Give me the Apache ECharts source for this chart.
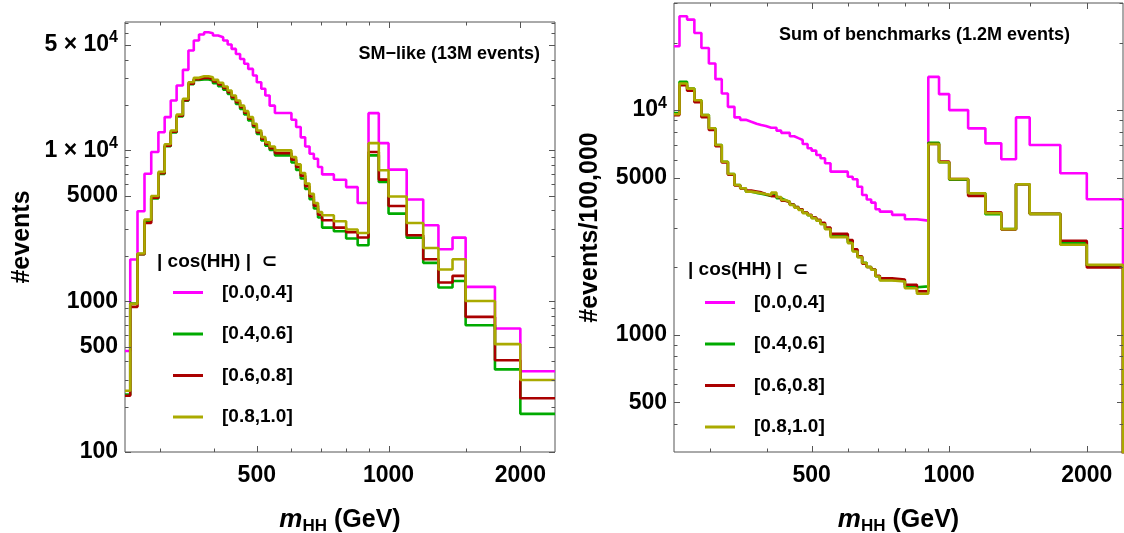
<!DOCTYPE html>
<html><head><meta charset="utf-8">
<script src="https://cdn.jsdelivr.net/npm/echarts@6/dist/echarts.min.js"></script>
<style>html,body{margin:0;padding:0;background:#fff}#c{width:1124px;height:533px}</style>
</head><body><div id="c"></div>
<script>
// ---------------- data ----------------
const binEdgesGeV = [250,257,267,277,287,298,308,318,328,339,349,359,369,379,388,397,408,419,429,438,448,458,468,478,490,500,512,523,535,550,600,615,630,645,660,675,690,705,750,800,850,900,950,1000,1100,1200,1300,1400,1500,1750,2000,2400];

const seriesNames = ['[0.0,0.4]', '[0.4,0.6]', '[0.6,0.8]', '[0.8,1.0]'];

// SM-like (13M events)
const smCos00to04 = [467,1888,3945,7000,9750,13200,16620,21400,26900,34200,45900,53500,58600,60700,59800,57800,56300,53500,50300,47100,43600,40400,37500,34700,31400,28300,25600,23100,19800,17700,15960,14300,12200,10600,9500,8800,7750,6930,6390,5710,4480,17660,11170,7450,4720,3190,2210,2640,1245,659,343];
const smCos04to06 = [240,966,2050,3400,4800,6980,10640,13140,16780,21320,27450,29360,29480,29480,29030,27890,26660,25220,23710,21950,20330,18810,17290,15790,14280,12870,11640,10740,10070,9270,8320,7420,6510,5540,4750,4120,3590,3076,2908,2602,2349,9270,6170,3810,2640,1795,1233,1360,693,353,179];
const smCos06to08 = [236,917,2046,3300,4850,7060,10750,13280,16950,21540,27730,29660,30250,30250,29800,28630,27360,25890,24340,22520,20870,19300,17750,16200,14650,13210,11940,11020,10330,9590,8680,7750,6800,5780,4950,4300,3740,3439,3076,2864,2642,9750,6400,4280,2735,1897,1330,1472,787,406,227];
const smCos08to10 = [255,960,2070,3475,4980,7200,10970,13550,17300,21980,28300,30270,31030,31030,30560,29360,28060,26550,24960,23100,21400,19800,18200,16620,15030,13550,12250,11300,10600,10000,9040,8070,7080,6020,5160,4480,3900,3711,3386,2985,2834,11170,7380,4950,3300,2255,1622,1897,1004,519,300];

// Sum of benchmarks (1.2M events), per 100,000
const bmCos00to04 = [19250,26170,25300,22070,18910,16120,13740,11860,10340,9280,9050,8870,8700,8580,8500,8340,8340,8100,7920,7920,7650,7500,7360,7060,6760,6600,6310,6100,5800,5320,5050,4920,4560,4190,4000,3870,3620,3530,3415,3266,3220,14060,11780,10000,8294,7110,6040,9280,6990,5233,4010];
const bmCos04to06 = [9700,13360,12470,11070,9500,8300,6990,5890,5195,4640,4490,4335,4280,4240,4200,4150,4180,4050,3970,3900,3800,3700,3620,3490,3400,3310,3220,3120,2960,2760,2580,2360,2220,2090,2000,1950,1820,1750,1735,1625,1640,7160,5856,4900,4265,3440,2950,4677,3450,2570,2026];
const bmCos06to08 = [9500,12900,12200,10850,9300,8150,6900,5850,5150,4620,4480,4380,4340,4300,4230,4150,4130,4050,3950,3900,3800,3700,3620,3500,3420,3320,3250,3150,3000,2810,2640,2400,2230,2070,2000,1950,1830,1780,1760,1668,1558,7060,5900,4935,4150,3510,2940,4677,3450,2617,1991];
const bmCos08to10 = [9590,13140,12470,11070,9500,8300,6990,5890,5195,4640,4490,4335,4300,4265,4230,4190,4290,4100,3980,3910,3780,3680,3590,3475,3400,3300,3220,3100,2950,2717,2556,2345,2213,2083,2000,1945,1816,1742,1725,1610,1521,7060,5856,4935,4265,3475,2950,4677,3450,2512,2047];

// ticks
const xTickValues = [500, 1000, 2000];
const xTickLabels = ['500', '1000', '2000'];
const xMinorTicks = [300, 400, 600, 700, 800, 900, 1500];
const smYTickValues = [100, 500, 1000, 5000, 10000, 50000];
const smYTickLabels = ['100', '500', '1000', '5000', '1 × 10^4', '5 × 10^4'];
const smYMinorTicks = [200,300,400,600,700,800,900,2000,3000,4000,6000,7000,8000,9000,20000,30000,40000,60000,70000];
const bmYTickValues = [500, 1000, 5000, 10000];
const bmYTickLabels = ['500', '1000', '5000', '10^4'];
const bmYMinorTicks = [400,600,700,800,900,2000,3000,4000,6000,7000,8000,9000,20000,30000];

// ---------------- styling ----------------
const FONT = "'Liberation Sans', Arial, 'DejaVu Sans', sans-serif";
const FRAME = '#555555';
const COLORS = ['#ff00ff', '#00aa00', '#aa0000', '#aaaa00'];
const X_MIN = 250, X_MAX = 2400;
const X_LABEL_SCALE = 1024 / 1000; // maps 500/1000/2000 onto powers of two

function richLabel(s) {
  const k = s.indexOf('^');
  if (k < 0) return s;
  return '{m|' + s.slice(0, k) + '}{e|' + s.slice(k + 1) + '}';
}
function lookup(real, vals, labels, mant) {
  for (let i = 0; i < vals.length; i++) {
    if (Math.abs(real - vals[i]) <= vals[i] * 1e-6) {
      if (mant != null) {
        const m = vals[i] / Math.pow(10, Math.floor(Math.log10(vals[i]) + 1e-9));
        if (Math.abs(m - mant) > 1e-6) return '';
      }
      return richLabel(labels[i]);
    }
  }
  return '';
}
const labelStyle = {
  fontFamily: FONT, fontSize: 23, fontWeight: 'bold', color: '#000',
  rich: {
    m: { fontFamily: FONT, fontSize: 23, fontWeight: 'bold', color: '#000', lineHeight: 30 },
    e: { fontFamily: FONT, fontSize: 16, fontWeight: 'bold', color: '#000', lineHeight: 30, verticalAlign: 'top' }
  }
};
const xNameStyle = {
  fontFamily: FONT, fontSize: 25, fontWeight: 'bold', color: '#000', lineHeight: 30,
  rich: {
    i: { fontFamily: FONT, fontSize: 26, fontStyle: 'italic', fontWeight: 'bold', color: '#000', lineHeight: 30 },
    s: { fontFamily: FONT, fontSize: 17, fontWeight: 'bold', color: '#000', lineHeight: 30, verticalAlign: 'bottom' },
    n: { fontFamily: FONT, fontSize: 25, fontWeight: 'bold', color: '#000', lineHeight: 30 }
  }
};

const panels = [
  {
    grid: { left: 125, top: 22, width: 430, height: 430 },
    yMin: 100, yMax: 71000,
    yVals: smYTickValues, yLabels: smYTickLabels, yMinor: smYMinorTicks,
    yName: '#events', yNameGap: 90,
    values: [smCos00to04, smCos04to06, smCos06to08, smCos08to10], drop: false,
    title: 'SM−like (13M events)', titleRight: 1124 - 540, titleTop: 45,
    headerLeft: 157, headerTop: 252, legendLeft: 173, legendTop: 283
  },
  {
    grid: { left: 674, top: 3, width: 449, height: 449 },
    yMin: 300, yMax: 30000,
    yVals: bmYTickValues, yLabels: bmYTickLabels, yMinor: bmYMinorTicks,
    yName: '#events/100,000', yNameGap: 71,
    values: [bmCos00to04, bmCos04to06, bmCos06to08, bmCos08to10], drop: true,
    title: 'Sum of benchmarks (1.2M events)', titleRight: 1124 - 1070, titleTop: 26,
    headerLeft: 688, headerTop: 260, legendLeft: 705, legendTop: 293
  }
];

function stepPoints(edges, vals, drop) {
  const pts = vals.map((v, i) => [edges[i], v]);
  pts.push([edges[edges.length - 1], vals[vals.length - 1]]);
  if (drop) pts.push([edges[edges.length - 1], 1]);
  return pts;
}

const option = {
  backgroundColor: '#fff', animation: false,
  grid: [], xAxis: [], yAxis: [], series: [], title: [], legend: []
};

panels.forEach((p, pi) => {
  option.grid.push(Object.assign({ show: true, borderColor: FRAME, borderWidth: 1, containLabel: false, outerBoundsMode: 'none' }, p.grid));
  const xi = option.xAxis.length, yi = option.yAxis.length;
  // data x axis
  option.xAxis.push({
    type: 'log', logBase: 10, gridIndex: pi, min: X_MIN, max: X_MAX,
    axisLine: { show: false }, axisTick: { show: false }, axisLabel: { show: false }, splitLine: { show: false },
    name: '{i|m}{s|HH}{n| (GeV)}', nameLocation: 'middle', nameGap: 53, nameTextStyle: xNameStyle
  });
  // label x axis (500 / 1000 / 2000)
  option.xAxis.push({
    type: 'log', logBase: 2, gridIndex: pi, position: 'bottom',
    min: X_MIN * X_LABEL_SCALE, max: X_MAX * X_LABEL_SCALE,
    axisLine: { show: false }, axisTick: { show: false }, splitLine: { show: false },
    axisLabel: Object.assign({ margin: 12, formatter: v => lookup(v / X_LABEL_SCALE, xTickValues, xTickLabels) }, labelStyle)
  });
  // data y axis (labels 1 x 10^k)
  option.yAxis.push({
    type: 'log', logBase: 10, gridIndex: pi, position: 'left', min: p.yMin, max: p.yMax,
    axisLine: { show: false }, axisTick: { show: false }, splitLine: { show: false },
    axisLabel: Object.assign({ margin: 7, formatter: v => lookup(v, p.yVals, p.yLabels, 1) }, labelStyle),
    name: p.yName, nameLocation: 'middle', nameGap: p.yNameGap,
    nameTextStyle: { fontFamily: FONT, fontSize: 25, fontWeight: 'bold', color: '#000' }
  });
  // label y axis (5 x 10^k)
  option.yAxis.push({
    type: 'log', logBase: 10, gridIndex: pi, position: 'left', offset: 0, min: p.yMin / 5, max: p.yMax / 5,
    axisLine: { show: false }, axisTick: { show: false }, splitLine: { show: false },
    axisLabel: Object.assign({ margin: 7, formatter: v => lookup(v * 5, p.yVals, p.yLabels, 5) }, labelStyle)
  });

  p.values.forEach((vals, si) => {
    option.series.push({
      type: 'line', name: seriesNames[si], xAxisIndex: xi, yAxisIndex: yi,
      step: 'end', showSymbol: false, symbol: 'none', clip: true,
      data: stepPoints(binEdgesGeV, vals, p.drop),
      lineStyle: { color: COLORS[si], width: 2.6 },
      itemStyle: { color: COLORS[si] },
      emphasis: { disabled: true }, z: 3 + si
    });
  });

  // frame ticks (all four sides, inward)
  const st = { stroke: FRAME, lineWidth: 1 };
  option.series.push({
    type: 'custom', xAxisIndex: xi, yAxisIndex: yi, silent: true, clip: false, z: 10,
    data: xTickValues.map(v => [v, p.yMin, 1]).concat(xMinorTicks.map(v => [v, p.yMin, 0])),
    renderItem: (params, api) => {
      const v = api.value(0), len = api.value(2) ? 6 : 3.5;
      const b = api.coord([v, p.yMin]), t = api.coord([v, p.yMax]);
      const x = Math.round(b[0]) + 0.5;
      return { type: 'group', children: [
        { type: 'line', shape: { x1: x, y1: b[1], x2: x, y2: b[1] - len }, style: st },
        { type: 'line', shape: { x1: x, y1: t[1], x2: x, y2: t[1] + len }, style: st }
      ] };
    }
  });
  option.series.push({
    type: 'custom', xAxisIndex: xi, yAxisIndex: yi, silent: true, clip: false, z: 10,
    data: p.yVals.map(v => [X_MIN, v, 1]).concat(p.yMinor.map(v => [X_MIN, v, 0])),
    renderItem: (params, api) => {
      const v = api.value(1), len = api.value(2) ? 6 : 3.5;
      const l = api.coord([X_MIN, v]), r = api.coord([X_MAX, v]);
      const y = Math.round(l[1]) + 0.5;
      return { type: 'group', children: [
        { type: 'line', shape: { x1: l[0], y1: y, x2: l[0] + len, y2: y }, style: st },
        { type: 'line', shape: { x1: r[0], y1: y, x2: r[0] - len, y2: y }, style: st }
      ] };
    }
  });

  option.title.push({
    text: p.title, right: p.titleRight, top: p.titleTop, padding: 0,
    textStyle: { fontFamily: FONT, fontSize: 18, fontWeight: 'bold', color: '#000' }
  });
  option.title.push({
    text: '| cos(HH) |  ⊂', left: p.headerLeft, top: p.headerTop, padding: 0,
    textStyle: { fontFamily: FONT, fontSize: 19, fontWeight: 'bold', color: '#000' }
  });
  option.legend.push({
    data: seriesNames, orient: 'vertical', left: p.legendLeft, top: p.legendTop, padding: 0,
    itemWidth: 30, itemHeight: 3, itemGap: 22.5, icon: 'rect', selectedMode: false,
    textStyle: { fontFamily: FONT, fontSize: 19, fontWeight: 'bold', color: '#000', padding: [0, 0, 0, 14] }
  });
});

const chart = echarts.init(document.getElementById('c'), null, { renderer: 'canvas' });
chart.setOption(option);
</script>
</body></html>
